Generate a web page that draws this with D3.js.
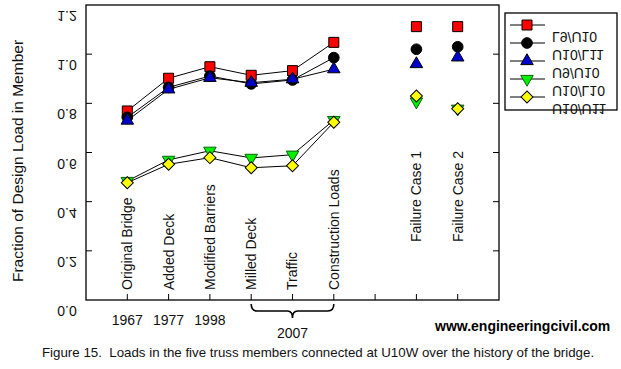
<!DOCTYPE html>
<html><head><meta charset="utf-8">
<script src="https://cdn.jsdelivr.net/npm/d3@7"></script>
<style>body{margin:0;background:#fff}svg{display:block}text{font-family:Arial,"Liberation Sans",sans-serif}</style>
</head><body>
<script>
const categories = ["Original Bridge","Added Deck","Modified Barriers","Milled Deck","Traffic","Construction Loads","","Failure Case 1","Failure Case 2"];
const historyYears = ["1967","1977","1998"];
const groupYear = "2007";
const seriesNames = ["L9/U10","U10/L11","U9/U10","U10/L10","U10/U11"];
const seriesL9U10   = [0.769,0.902,0.949,0.914,0.933,1.048];
const seriesU10L11  = [0.743,0.865,0.911,0.879,0.895,0.986];
const seriesU9U10   = [0.730,0.857,0.904,0.884,0.898,0.939];
const seriesU10L10  = [0.484,0.570,0.607,0.578,0.591,0.732];
const seriesU10U11  = [0.477,0.552,0.579,0.538,0.546,0.723];
const failL9U10  = [1.112,1.112];
const failU10L11 = [1.020,1.030];
const failU9U10  = [0.960,0.987];
const failU10L10 = [0.807,0.778];
const failU10U11 = [0.830,0.778];
const yTicks = [0.0,0.2,0.4,0.6,0.8,1.0,1.2];

const W=621,H=369;
const svg=d3.select("body").append("svg").attr("width",W).attr("height",H);
const L=86,R=499,T=5,B=300;
const x=d3.scaleLinear().domain([0,10]).range([L,R]);
const y=d3.scaleLinear().domain([0,1.2]).range([B,T]);

const series=[
 {name:seriesNames[0],hist:seriesL9U10,fail:failL9U10,shape:d3.symbolSquare,size:100,fill:"#ff0000",rot:0},
 {name:seriesNames[1],hist:seriesU10L11,fail:failU10L11,shape:d3.symbolCircle,size:90,fill:"#000000",rot:0},
 {name:seriesNames[2],hist:seriesU9U10,fail:failU9U10,shape:d3.symbolTriangle,size:68,fill:"#0000cc",rot:0},
 {name:seriesNames[3],hist:seriesU10L10,fail:failU10L10,shape:d3.symbolTriangle,size:68,fill:"#00ee00",rot:180},
 {name:seriesNames[4],hist:seriesU10U11,fail:failU10U11,shape:d3.symbolSquare,size:72,fill:"#ffff00",rot:45}
];

// frame
svg.append("rect").attr("x",L).attr("y",T).attr("width",R-L).attr("height",B-T)
 .attr("fill","none").attr("stroke","#000").attr("stroke-width",1.3);

// y ticks left and right (inward)
yTicks.forEach(v=>{
  const yy=y(v);
  if(v>0 && v<1.2){
    svg.append("line").attr("x1",L).attr("x2",L+6).attr("y1",yy).attr("y2",yy).attr("stroke","#000");
    svg.append("line").attr("x1",R-6).attr("x2",R).attr("y1",yy).attr("y2",yy).attr("stroke","#000");
  }
  svg.append("text").attr("transform",`translate(67,${yy+11}) scale(1,-1)`)
   .attr("text-anchor","middle").attr("dy","0.35em").attr("font-size",14).attr("fill","#111")
   .text(v.toFixed(1));
});

// x ticks (inward, up)
categories.forEach((c,i)=>{
  const xx=x(i+1);
  svg.append("line").attr("x1",xx).attr("x2",xx).attr("y1",B).attr("y2",B-6).attr("stroke","#000");
  if(c){
    const yEnd = i<6 ? 290 : 242;
    svg.append("text").attr("transform",`translate(${xx},${yEnd}) rotate(-90)`)
     .attr("text-anchor","start").attr("dy","0.35em").attr("font-size",14).attr("fill","#111").text(c);
  }
});

// years
historyYears.forEach((yr,i)=>{
  svg.append("text").attr("x",x(i+1)).attr("y",325).attr("text-anchor","middle")
   .attr("font-size",14).attr("fill","#111").text(yr);
});
// brace
const bx0=x(4),bx1=x(6),bm=x(5);
svg.append("path").attr("d",
 `M${bx0},304 Q${bx0},311 ${bx0+6},311 L${bm-5},311 Q${bm},311 ${bm},318 Q${bm},311 ${bm+5},311 L${bx1-6},311 Q${bx1},311 ${bx1},304`)
 .attr("fill","none").attr("stroke","#000").attr("stroke-width",1.6);
svg.append("text").attr("x",bm).attr("y",338).attr("text-anchor","middle").attr("font-size",14).attr("fill","#111").text(groupYear);

// lines
const line=d3.line().x((d,i)=>x(i+1)).y(d=>y(d));
series.forEach(s=>{
  svg.append("path").attr("d",line(s.hist)).attr("fill","none").attr("stroke","#000").attr("stroke-width",1);
});
// markers
function marker(g,s,cx,cy){
  g.append("path").attr("d",d3.symbol().type(s.shape).size(s.size)())
   .attr("transform",`translate(${cx},${cy}) rotate(${s.rot})`)
   .attr("fill",s.fill).attr("stroke",s.name==="U10/L10"?"#106010":"#000").attr("stroke-width",1);
}
series.forEach(s=>{
  s.hist.forEach((v,i)=>marker(svg,s,x(i+1),y(v)));
  s.fail.forEach((v,i)=>marker(svg,s,x(i+8),y(v)));
});

// legend
svg.append("rect").attr("x",505).attr("y",13).attr("width",112).attr("height",97)
 .attr("fill","#fff").attr("stroke","#000").attr("stroke-width",1.3);
const legY=[25,43,61,79,97];
series.forEach((s,i)=>{
  svg.append("line").attr("x1",510).attr("x2",545).attr("y1",legY[i]).attr("y2",legY[i]).attr("stroke","#000");
  marker(svg,s,527,legY[i]);
  svg.append("text").attr("transform",`translate(552,${legY[i]+12}) scale(1,-1)`)
   .attr("dy","0.35em").attr("font-size",14).attr("fill","#111").text(s.name);
});

// y title
svg.append("text").attr("transform","translate(18,161) rotate(-90)").attr("text-anchor","middle")
 .attr("dy","0.35em").attr("font-size",15.5).attr("fill","#111").text("Fraction of Design Load in Member");

// site
svg.append("text").attr("x",435).attr("y",331).attr("font-size",14).attr("font-weight","bold").attr("fill","#000")
 .text("www.engineeringcivil.com");
// caption
svg.append("text").attr("x",42).attr("y",357).attr("font-size",13.3).attr("fill","#111")
 .attr("xml:space","preserve").style("white-space","pre")
 .text("Figure 15.  Loads in the five truss members connected at U10W over the history of the bridge.");
</script>
</body></html>
